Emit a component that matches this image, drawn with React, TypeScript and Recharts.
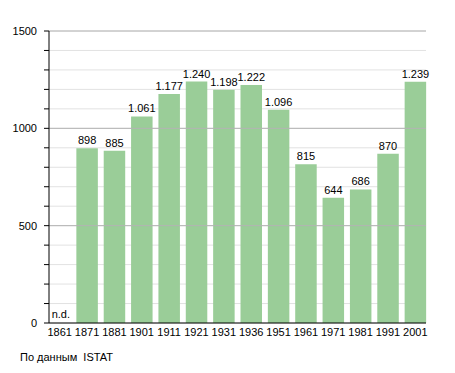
import { BarChart, Bar, XAxis, YAxis, CartesianGrid, ReferenceLine, ReferenceDot, LabelList } from "recharts";

const years = ["1861", "1871", "1881", "1901", "1911", "1921", "1931", "1936", "1951", "1961", "1971", "1981", "1991", "2001"];
const population: (number | null)[] = [null, 898, 885, 1061, 1177, 1240, 1198, 1222, 1096, 815, 644, 686, 870, 1239];
const yTicks = [0, 100, 200, 300, 400, 500, 600, 700, 800, 900, 1000, 1100, 1200, 1300, 1400, 1500];
const majorTicks = [500, 1000, 1500];

const data = years.map((year, i) => ({ year, value: population[i] }));
const missing = data.filter((d) => d.value == null);

const font = "'Liberation Sans', Arial, sans-serif";

// 1240 -> "1.240"
const fmt = (v: number) => String(v).replace(/\B(?=(\d{3})+(?!\d))/g, ".");

const ValueLabel = (props: any) => {
  const { x, y, width, value } = props;
  if (value == null) return null;
  return (
    <text x={x + width / 2} y={y - 4} textAnchor="middle" fontSize={11} fill="#000" fontFamily={font}>
      {fmt(value)}
    </text>
  );
};

const NdLabel = (props: any) => {
  const { viewBox } = props;
  const cx = viewBox.x + (viewBox.width || 0) / 2;
  return (
    <text x={cx - 8} y={viewBox.y - 5} fontSize={11} fill="#000" fontFamily={font}>
      n.d.
    </text>
  );
};

export default function App() {
  return (
    <div style={{ position: "absolute", left: 0, top: 0, width: 455, height: 373, background: "#fff", fontFamily: font }}>
      <BarChart width={455} height={373} data={data} margin={{ top: 31, right: 29, bottom: 20, left: 0 }} barSize={21.5}>
        <CartesianGrid vertical={false} stroke="#e2e2e2" />
        {majorTicks.map((t) => (
          <ReferenceLine key={t} y={t} stroke="#b4b4b4" />
        ))}
        <XAxis
          dataKey="year"
          padding={{ left: -3, right: -3 }}
          axisLine={{ stroke: "#000" }}
          tickLine={false}
          tickSize={3}
          tick={{ fill: "#000", fontSize: 11, fontFamily: font }}
          interval={0}
        />
        <YAxis
          width={49}
          domain={[0, 1500]}
          ticks={yTicks}
          interval={0}
          axisLine={{ stroke: "#000" }}
          tickLine={{ stroke: "#000" }}
          tickSize={5}
          tickMargin={7}
          tick={{ fill: "#000", fontSize: 11, fontFamily: font }}
          tickFormatter={(v: number) => (v % 500 === 0 ? String(v) : "")}
        />
        <Bar dataKey="value" fill="#9acd98" isAnimationActive={false}>
          <LabelList dataKey="value" content={ValueLabel} />
        </Bar>
        {missing.map((d) => (
          <ReferenceDot key={d.year} x={d.year} y={0} r={0} stroke="none" label={<NdLabel />} />
        ))}
      </BarChart>
      <div style={{ position: "absolute", left: 20, top: 351, fontSize: 11, color: "#000", whiteSpace: "pre" }}>По данным  ISTAT</div>
    </div>
  );
}
